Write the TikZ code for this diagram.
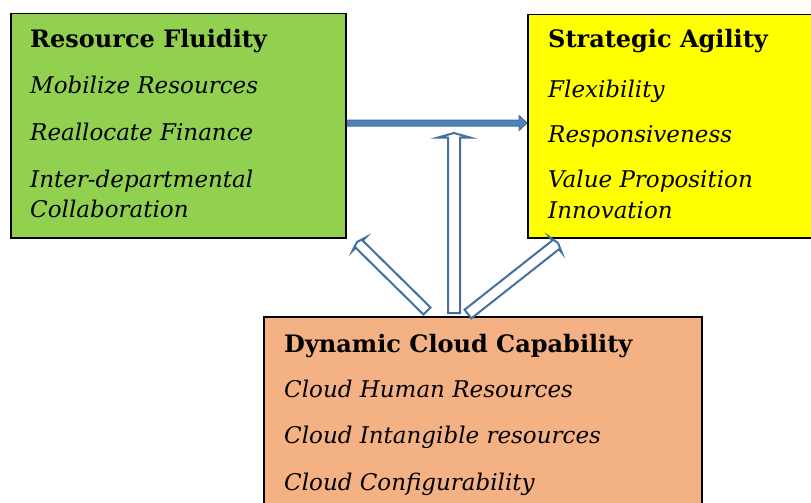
\documentclass[tikz,border=0pt]{standalone}
\usepackage{fontspec}
\setmainfont{DejaVu Serif}
\usetikzlibrary{calc}

\definecolor{rfgreen}{RGB}{146,208,80}
\definecolor{sayellow}{RGB}{255,255,0}
\definecolor{dccorange}{RGB}{244,177,131}
\definecolor{arrowline}{RGB}{65,113,156}
\definecolor{arrowfill}{RGB}{79,129,189}

% block arrow from #2 to #3: shaft half width #4, head half width #5, head length #6
\newcommand{\blockarrow}[6][]{%
  \draw[#1] let \p1=(#2), \p2=(#3),
    \n1={atan2(\y2-\y1,\x2-\x1)}, \n2={veclen(\x2-\x1,\y2-\y1)} in
    [shift={(\p1)}, rotate=\n1]
    (0,-#4) -- ({\n2-#6},-#4) -- ({\n2-#6},-#5) -- ({\n2},0)
    -- ({\n2-#6},#5) -- ({\n2-#6},#4) -- (0,#4) -- cycle;
}

\begin{document}
\begin{tikzpicture}[x=1pt, y=-1pt,
  box/.style={draw=black, line width=1.5pt, anchor=north west, inner sep=0pt},
  headtext/.style={anchor=base west, inner sep=0pt, font=\fontsize{24}{28}\selectfont\bfseries},
  itemtext/.style={anchor=base west, inner sep=0pt, font=\fontsize{23}{28}\selectfont\itshape},
  hollowarrow/.style={draw=arrowline, fill=white, line width=2pt},
  solidarrow/.style={draw=arrowline, fill=arrowfill, line width=1pt}
]
\clip (0,0) rectangle (811,503);
\fill[white] (0,0) rectangle (811,503);

\node[box, fill=rfgreen, minimum width=335pt, minimum height=224pt] (rf) at (10,13) {};
\node[box, fill=sayellow, minimum width=300pt, minimum height=223pt] (sa) at (527,14) {};
\node[box, fill=dccorange, minimum width=438pt, minimum height=220pt] (dcc) at (263,316) {};

\node[headtext] (rfhead) at (30,48) {Resource Fluidity};
\node[itemtext] (rfa) at (30,93) {Mobilize Resources};
\node[itemtext] (rfb) at (30,140) {Reallocate Finance};
\node[itemtext] (rfc) at (30,187) {Inter-departmental};
\node[itemtext] (rfd) at (30,217) {Collaboration};

\node[headtext] (sahead) at (548,48) {Strategic Agility};
\node[itemtext] (saa) at (548,97) {Flexibility};
\node[itemtext] (sab) at (548,142) {Responsiveness};
\node[itemtext] (sac) at (548,187) {Value Proposition};
\node[itemtext] (sad) at (548,218) {Innovation};

\node[headtext] (dcchead) at (284,352) {Dynamic Cloud Capability};
\node[itemtext] (dcca) at (284,397) {Cloud Human Resources};
\node[itemtext] (dccb) at (284,443) {Cloud Intangible resources};
\node[itemtext] (dccc) at (284,490) {Cloud Configurability};

\coordinate (h1) at (347,123);
\coordinate (h2) at (527,123);
\coordinate (v1) at (454,313);
\coordinate (v2) at (454,133);
\coordinate (l1) at (427,311);
\coordinate (l2) at (357,242);
\coordinate (r1) at (468,314);
\coordinate (r2) at (558,243);

\blockarrow[solidarrow]{h1}{h2}{3}{7.5}{8}
\blockarrow[hollowarrow]{v1}{v2}{6}{16}{4.5}
\blockarrow[hollowarrow]{l1}{l2}{5}{9.5}{3}
\blockarrow[hollowarrow]{r1}{r2}{5.5}{10}{3}

\end{tikzpicture}
\end{document}
